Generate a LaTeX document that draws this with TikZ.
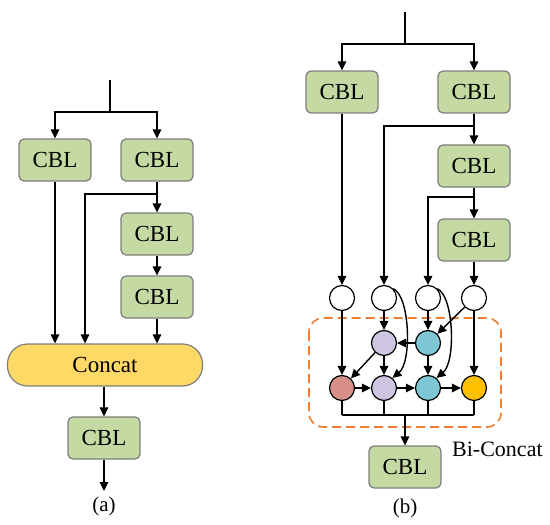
\documentclass[tikz,border=0pt]{standalone}
\usepackage{fontspec}
\setmainfont{Liberation Serif}
\usetikzlibrary{arrows.meta,calc}
\definecolor{cblgreen}{RGB}{197,217,163}
\definecolor{boxgray}{RGB}{125,125,125}
\definecolor{concatyel}{RGB}{255,217,102}
\definecolor{cpurple}{RGB}{206,198,224}
\definecolor{ccyan}{RGB}{125,198,212}
\definecolor{cred}{RGB}{214,142,135}
\definecolor{cyellow}{RGB}{255,192,0}
\definecolor{corange}{RGB}{237,125,49}
\tikzset{
  cbl/.style={rectangle, rounded corners=5pt, fill=cblgreen, draw=boxgray, line width=1.2pt,
    minimum width=72pt, minimum height=42pt, inner sep=0pt, font=\fontsize{23}{27}\selectfont},
  concatbox/.style={rectangle, rounded corners=20pt, fill=concatyel, draw=boxgray, line width=1.2pt,
    minimum width=195pt, minimum height=42pt, inner sep=0pt, font=\fontsize{23}{27}\selectfont},
  dot/.style={circle, draw=black, line width=1.2pt, minimum size=25pt, inner sep=0pt},
  arr/.style={-{Triangle[length=9pt,width=8.5pt]}, line width=1.4pt},
  ln/.style={line width=1.4pt},
  lab/.style={font=\fontsize{21}{25}\selectfont, inner sep=0pt}
}
\begin{document}
\begin{tikzpicture}[x=1pt,y=-1pt]
\useasboundingbox (0,0) rectangle (550,525);
% ---------- panel (a)
\coordinate (ain) at (110,80);
\coordinate (aj) at (110,112);
\node[cbl] (a1) at (55,160) {CBL};
\node[cbl] (a2) at (157,160) {CBL};
\node[cbl] (a3) at (157,234) {CBL};
\node[cbl] (a4) at (157,297) {CBL};
\node[concatbox] (ac) at (105,365) {Concat};
\node[cbl] (a5) at (104,438) {CBL};
\coordinate (aout) at (104,491);
\node[lab] (alab) at (104,506) {(a)};
\coordinate (ajb) at (157,194);
\coordinate (akt) at (85,194);
\draw[ln] (ain) -- (aj);
\draw[arr] (aj) -| (a1.north);
\draw[arr] (aj) -| (a2.north);
\draw[arr] (a2.south) -- (a3.north);
\draw[arr] (ajb) -- (akt) -- (akt |- ac.north);
\draw[arr] (a3.south) -- (a4.north);
\draw[arr] (a1.south) -- (a1.south |- ac.north);
\draw[arr] (a4.south) -- (a4.south |- ac.north);
\draw[arr] (a5.north |- ac.south) -- (a5.north);
\draw[arr] (a5.south) -- (aout);
% ---------- panel (b)
\coordinate (bin) at (405,12);
\coordinate (bj) at (405,44);
\node[cbl] (b1) at (342,92) {CBL};
\node[cbl] (b2) at (474,92) {CBL};
\node[cbl] (b3) at (474,166) {CBL};
\node[cbl] (b4) at (474,240) {CBL};
\node[cbl] (b5) at (405,467) {CBL};
\node[dot, fill=white] (w1) at (342,298) {};
\node[dot, fill=white] (w2) at (384,298) {};
\node[dot, fill=white] (w3) at (428,298) {};
\node[dot, fill=white] (w4) at (474,298) {};
\node[dot, fill=cpurple] (m2) at (384,343) {};
\node[dot, fill=ccyan] (m3) at (428,343) {};
\node[dot, fill=cred] (r1) at (342,388) {};
\node[dot, fill=cpurple] (r2) at (384,388) {};
\node[dot, fill=ccyan] (r3) at (428,388) {};
\node[dot, fill=cyellow] (r4) at (474,388) {};
\draw[corange, dashed, dash pattern=on 9pt off 5pt, line width=1.6pt, rounded corners=14pt]
  (309,318) rectangle (501,427);
\node[lab, anchor=west, font=\fontsize{22}{26}\selectfont] (bic) at (452,449) {Bi-Concat};
\node[lab] (blab) at (405,508) {(b)};
\coordinate (bj2) at (474,126);
\coordinate (bk2) at (384,126);
\coordinate (bj3) at (474,197);
\coordinate (bk3) at (428,197);
\draw[ln] (bin) -- (bj);
\draw[arr] (bj) -| (b1.north);
\draw[arr] (bj) -| (b2.north);
\draw[arr] (b2.south) -- (b3.north);
\draw[arr] (b3.south) -- (b4.north);
\draw[arr] (bj2) -- (bk2) -- (w2.north);
\draw[arr] (bj3) -- (bk3) -- (w3.north);
\draw[arr] (b1.south) -- (w1.north);
\draw[arr] (b4.south) -- (w4.north);
% inside Bi-Concat
\draw[arr] (w1) -- (r1);
\draw[arr] (w2) -- (m2);
\draw[arr] (w3) -- (m3);
\draw[arr] (w4) -- (r4);
\draw[arr] (w4) -- (m3);
\draw[arr] (m3) -- (m2);
\draw[arr] (m2) -- (r2);
\draw[arr] (m2) -- (r1);
\draw[arr] (m3) -- (r3);
\draw[arr] (r1) -- (r2);
\draw[arr] (r2) -- (r3);
\draw[arr] (r3) -- (r4);
\draw[arr] (w2.45) .. controls (410,296) and (412,362) .. (r2.50);
\draw[arr] (w3.45) .. controls (454,296) and (456,362) .. (r3.50);
% outputs
\coordinate (bbot) at (405,415);
\draw[ln] (r1.south) -- (r1.south |- bbot);
\draw[ln] (r2.south) -- (r2.south |- bbot);
\draw[ln] (r3.south) -- (r3.south |- bbot);
\draw[ln] (r4.south) -- (r4.south |- bbot);
\draw[ln] (r1.south |- bbot) -- (r4.south |- bbot);
\draw[arr] (bbot) -- (b5.north);
\end{tikzpicture}
\end{document}
